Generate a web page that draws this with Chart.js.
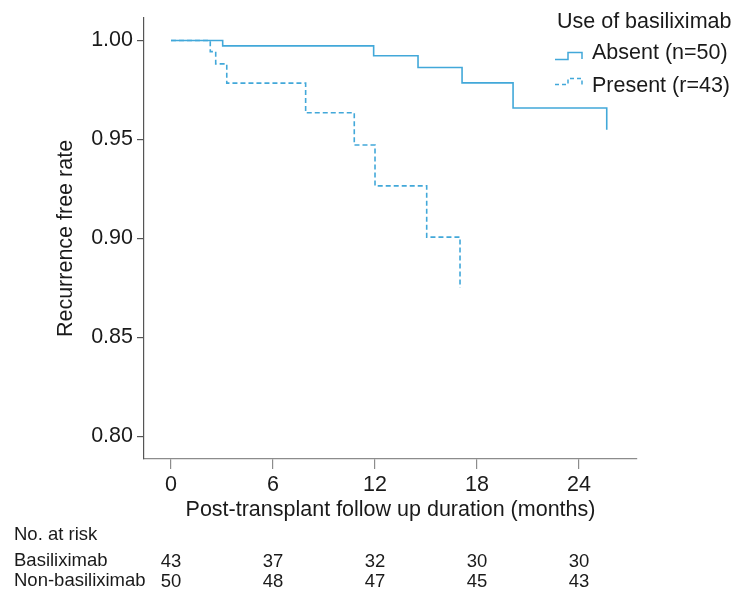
<!DOCTYPE html>
<html>
<head>
<meta charset="utf-8">
<script src="https://cdn.jsdelivr.net/npm/chart.js@4/dist/chart.umd.min.js"></script>
<style>
  html, body { margin: 0; padding: 0; background: #fff; }
  canvas { display: block; }
</style>
</head>
<body>
<canvas id="kmChart" width="743" height="598"></canvas>
<script>
// Kaplan-Meier steps (months, recurrence free rate)
const absentMonths = [0, 3.04, 11.92, 14.53, 17.12, 20.12, 25.63];
const absentRate = [1.0, 0.9973, 0.9923, 0.9864, 0.9786, 0.9659, 0.9549];

const presentMonths = [0, 2.31, 2.63, 3.28, 7.92, 10.78, 12.0, 15.04, 17.0];
const presentRate = [1.0, 0.9944, 0.9882, 0.9785, 0.9635, 0.9472, 0.9266, 0.9007, 0.8751];

const xTicks = [0, 6, 12, 18, 24];
const yTicks = [0.8, 0.85, 0.9, 0.95, 1.0];

// numbers at risk
const riskMonths = [0, 6, 12, 18, 24];
const basiliximabRisk = [43, 37, 32, 30, 30];
const nonBasiliximabRisk = [50, 48, 47, 45, 43];

const legendTitle = "Use of basiliximab";
const legendLabels = ["Absent (n=50)", "Present (r=43)"];

const lineColor = "#42a8d9";
const fontFamily = "'Liberation Sans', Arial, sans-serif";

function toPoints(xs, ys) {
  return xs.map((x, i) => ({ x: x, y: ys[i] }));
}

// legend + "No. at risk" table, drawn after the chart
const extrasPlugin = {
  id: "extras",
  afterDraw(chart) {
    const ctx = chart.ctx;
    const xScale = chart.scales.x;
    ctx.save();

    // legend
    ctx.fillStyle = "#1a1a1a";
    ctx.font = "21.5px " + fontFamily;
    ctx.textAlign = "left";
    ctx.textBaseline = "alphabetic";
    ctx.fillText(legendTitle, 557, 28);
    ctx.fillText(legendLabels[0], 592, 59);
    ctx.fillText(legendLabels[1], 592, 92);

    ctx.strokeStyle = lineColor;
    ctx.lineWidth = 1.5;
    // solid step icon
    ctx.beginPath();
    ctx.moveTo(555, 59.5);
    ctx.lineTo(568, 59.5);
    ctx.lineTo(568, 52.5);
    ctx.lineTo(582, 52.5);
    ctx.lineTo(582, 59);
    ctx.stroke();
    // dashed step icon
    ctx.setLineDash([4, 3]);
    ctx.beginPath();
    ctx.moveTo(555, 84.5);
    ctx.lineTo(568, 84.5);
    ctx.lineTo(568, 78.5);
    ctx.lineTo(582, 78.5);
    ctx.lineTo(582, 85);
    ctx.stroke();
    ctx.setLineDash([]);

    // at-risk table
    ctx.fillStyle = "#1a1a1a";
    ctx.font = "18.5px " + fontFamily;
    ctx.textAlign = "left";
    ctx.fillText("No. at risk", 14, 540);
    ctx.fillText("Basiliximab", 14, 566);
    ctx.fillText("Non-basiliximab", 14, 586);
    ctx.textAlign = "center";
    riskMonths.forEach((m, i) => {
      const px = xScale.getPixelForValue(m);
      ctx.fillText(String(basiliximabRisk[i]), px, 567);
      ctx.fillText(String(nonBasiliximabRisk[i]), px, 587);
    });
    ctx.restore();
  },
};

const ctx = document.getElementById("kmChart").getContext("2d");
new Chart(ctx, {
  type: "line",
  data: {
    datasets: [
      {
        label: legendLabels[0],
        data: toPoints(absentMonths, absentRate),
        borderColor: lineColor,
        borderWidth: 1.6,
        stepped: true,
        pointRadius: 0,
        fill: false,
      },
      {
        label: legendLabels[1],
        data: toPoints(presentMonths, presentRate),
        borderColor: lineColor,
        borderWidth: 1.6,
        borderDash: [5, 3],
        stepped: true,
        pointRadius: 0,
        fill: false,
      },
    ],
  },
  options: {
    responsive: false,
    animation: false,
    devicePixelRatio: 1,
    layout: { padding: { top: 18, right: 106, bottom: 69, left: 0 } },
    plugins: {
      legend: { display: false },
      tooltip: { enabled: false },
    },
    scales: {
      x: {
        type: "linear",
        min: -1.588,
        max: 27.41,
        afterBuildTicks: (scale) => {
          scale.ticks = xTicks.map((v) => ({ value: v }));
        },
        afterFit: (scale) => {
          scale.height = 70;
        },
        ticks: {
          color: "#1a1a1a",
          font: { family: fontFamily, size: 21.5 },
          padding: 3,
          maxRotation: 0,
        },
        grid: {
          drawOnChartArea: false,
          drawTicks: true,
          tickLength: 10,
          color: "#8c8c8c",
          lineWidth: 1.2,
        },
        border: { display: true, color: "#8c8c8c", width: 1.2 },
        title: {
          display: true,
          text: "Post-transplant follow up duration (months)",
          color: "#1a1a1a",
          font: { family: fontFamily, size: 21.5 },
          padding: { top: 0, bottom: 6 },
        },
      },
      y: {
        type: "linear",
        min: 0.7886,
        max: 1.0114,
        afterBuildTicks: (scale) => {
          scale.ticks = yTicks.map((v) => ({ value: v }));
        },
        afterFit: (scale) => {
          scale.width = 144;
        },
        ticks: {
          color: "#1a1a1a",
          font: { family: fontFamily, size: 21.5 },
          padding: 4,
          callback: (v) => Number(v).toFixed(2),
        },
        grid: {
          drawOnChartArea: false,
          drawTicks: true,
          tickLength: 7,
          color: "#555",
          lineWidth: 1.2,
        },
        border: { display: true, color: "#555", width: 1.2 },
        title: {
          display: true,
          text: "Recurrence free rate",
          color: "#1a1a1a",
          font: { family: fontFamily, size: 21.5 },
          padding: { top: 53, bottom: 0 },
        },
      },
    },
  },
  plugins: [extrasPlugin],
});
</script>
</body>
</html>
